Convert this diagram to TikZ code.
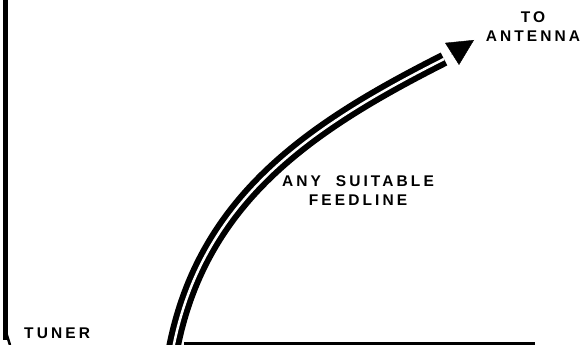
\documentclass[tikz,border=0pt]{standalone}
\usepackage{fontspec}
\newfontfamily\capsfont{Liberation Sans}[LetterSpace=20,WordSpace=2]
\usetikzlibrary{arrows.meta}

\begin{document}
\begin{tikzpicture}[x=1pt,y=-1pt,
                    feedline/.style={line width=6pt,double=white,double distance=2.5pt},
                    caps/.style={font=\capsfont\fontsize{15.5}{19}\selectfont\bfseries,align=center,inner sep=0pt}]

\useasboundingbox (0,0) rectangle (587,345);

% corner of the tuner box
\coordinate (tl) at (5.5,0);
\coordinate (bl) at (5.5,340);
\coordinate (bm) at (184,343.5);
\coordinate (br) at (535,343.5);
\draw [line width=5pt] (tl) -- (bl);
\draw [line width=2.5pt] (5,329) -- (10,345);
\draw [line width=2.5pt] (bm) -- (br);

\node [caps,anchor=west] (tuner) at (24,333) {TUNER};

% the feedline
\coordinate (base) at (173,349);
\coordinate (fe) at (444,59);
\coordinate (tip) at (474,40);
\draw [feedline] (base) .. controls (202,199) and (310.5,126.5) .. (fe);
\draw [-{Triangle[length=26pt,width=26pt]},line width=0.4pt,shorten <=9pt] (fe) -- (tip);

\node [caps] (feed) at (358,191) {ANY SUITABLE\\FEEDLINE};
\node [caps] (ant) at (533,27) {TO\\ANTENNA};

\end{tikzpicture}
\end{document}
